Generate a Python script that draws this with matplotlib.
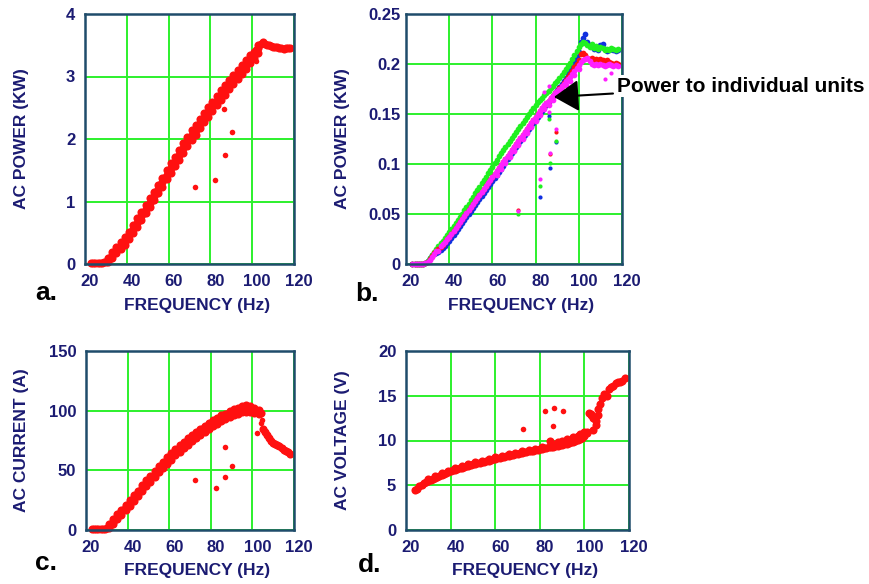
import matplotlib
matplotlib.use("Agg")
import matplotlib.pyplot as plt
import matplotlib.transforms as mtransforms

plt.rcParams["font.family"] = ["Liberation Sans", "DejaVu Sans"]
plt.rcParams["font.weight"] = "bold"

NAVY = "#1b1b72"
SPINE = "#1f4c6b"
GRID = "#2cf02c"
RED = "#ff1010"

# ---------------- panel a: total AC power (kW) ----------------
freq_a = list(range(23, 119))
power_a = [0.02, 0.02, 0.02, 0.02, 0.02, 0.02, 0.03, 0.04, 0.07, 0.10,
           0.14, 0.18, 0.22, 0.26, 0.29, 0.33, 0.37, 0.41, 0.46, 0.50,
           0.56, 0.61, 0.66, 0.71, 0.77, 0.82, 0.88, 0.93, 0.98, 1.04,
           1.09, 1.15, 1.20, 1.26, 1.31, 1.37, 1.43, 1.48, 1.53, 1.59,
           1.64, 1.70, 1.75, 1.80, 1.86, 1.91, 1.97, 2.02, 2.06, 2.11,
           2.15, 2.20, 2.25, 2.29, 2.34, 2.39, 2.44, 2.48, 2.53, 2.57,
           2.61, 2.66, 2.70, 2.75, 2.79, 2.83, 2.87, 2.91, 2.95, 2.99,
           3.03, 3.07, 3.11, 3.15, 3.19, 3.23, 3.27, 3.31, 3.36, 3.42,
           3.46, 3.52, 3.55, 3.52, 3.50, 3.50, 3.49, 3.48, 3.48, 3.47,
           3.46, 3.45, 3.44, 3.45, 3.45, 3.45]
# upper and lower edges of the measurement band
freq_a_edge = list(range(31, 105, 2))
power_a_hi = [0.10, 0.19, 0.27, 0.35, 0.43, 0.52, 0.62, 0.73, 0.84, 0.95,
              1.05, 1.16, 1.27, 1.38, 1.50, 1.61, 1.72, 1.83, 1.93, 2.04,
              2.14, 2.23, 2.32, 2.42, 2.52, 2.60, 2.69, 2.78, 2.86, 2.94,
              3.02, 3.10, 3.18, 3.26, 3.34, 3.40, 3.50]
power_a_lo = [0.03, 0.09, 0.17, 0.24, 0.31, 0.40, 0.50, 0.59, 0.70, 0.81,
              0.92, 1.02, 1.13, 1.24, 1.36, 1.46, 1.57, 1.67, 1.78, 1.89,
              1.98, 2.07, 2.17, 2.27, 2.36, 2.45, 2.54, 2.63, 2.71, 2.80,
              2.88, 2.96, 3.04, 3.12, 3.21, 3.30, 3.38]
freq_a_out = [72.5, 82.4, 86.9, 86.6, 90.4, 102.0]
power_a_out = [1.23, 1.34, 1.74, 2.48, 2.11, 3.25]

# ---------------- panel b: power to individual units (kW) ----------------
freq_b = list(range(23, 119))
unit_blue = [0.000, 0.000, 0.000, 0.000, 0.000, 0.000, 0.001, 0.003, 0.006, 0.009,
             0.010, 0.011, 0.012, 0.014, 0.016, 0.018, 0.021, 0.023, 0.026, 0.029,
             0.032, 0.035, 0.038, 0.041, 0.044, 0.047, 0.050, 0.053, 0.056, 0.059,
             0.062, 0.065, 0.068, 0.071, 0.074, 0.077, 0.080, 0.083, 0.086, 0.089,
             0.092, 0.095, 0.098, 0.102, 0.105, 0.108, 0.111, 0.114, 0.117, 0.120,
             0.123, 0.126, 0.129, 0.132, 0.135, 0.138, 0.141, 0.144, 0.147, 0.150,
             0.153, 0.156, 0.159, 0.162, 0.165, 0.168, 0.171, 0.174, 0.177, 0.180,
             0.183, 0.186, 0.190, 0.194, 0.198, 0.203, 0.207, 0.212, 0.222, 0.226,
             0.230, 0.222, 0.219, 0.217, 0.215, 0.217, 0.214, 0.219, 0.220, 0.215,
             0.213, 0.214, 0.215, 0.214, 0.213, 0.214]
unit_green = [0.000, 0.000, 0.000, 0.000, 0.000, 0.000, 0.001, 0.003, 0.006, 0.009,
              0.012, 0.015, 0.018, 0.021, 0.023, 0.026, 0.029, 0.032, 0.035, 0.038,
              0.041, 0.044, 0.047, 0.050, 0.054, 0.057, 0.060, 0.064, 0.067, 0.071,
              0.074, 0.077, 0.081, 0.084, 0.087, 0.091, 0.094, 0.097, 0.101, 0.104,
              0.108, 0.111, 0.114, 0.117, 0.120, 0.123, 0.126, 0.129, 0.132, 0.135,
              0.138, 0.141, 0.144, 0.147, 0.150, 0.153, 0.156, 0.159, 0.162, 0.164,
              0.166, 0.169, 0.171, 0.173, 0.176, 0.178, 0.181, 0.183, 0.186, 0.189,
              0.192, 0.195, 0.198, 0.201, 0.205, 0.209, 0.213, 0.217, 0.220, 0.222,
              0.221, 0.219, 0.217, 0.220, 0.216, 0.218, 0.215, 0.217, 0.216, 0.214,
              0.215, 0.214, 0.216, 0.215, 0.214, 0.215]
unit_red = [0.000, 0.000, 0.000, 0.000, 0.000, 0.000, 0.001, 0.002, 0.005, 0.008,
            0.011, 0.013, 0.015, 0.017, 0.019, 0.022, 0.025, 0.027, 0.030, 0.033,
            0.036, 0.039, 0.042, 0.045, 0.048, 0.051, 0.054, 0.057, 0.060, 0.063,
            0.066, 0.069, 0.072, 0.075, 0.078, 0.081, 0.084, 0.087, 0.090, 0.093,
            0.096, 0.099, 0.102, 0.105, 0.108, 0.111, 0.114, 0.117, 0.120, 0.123,
            0.126, 0.129, 0.132, 0.135, 0.138, 0.141, 0.144, 0.147, 0.150, 0.153,
            0.156, 0.158, 0.161, 0.163, 0.166, 0.168, 0.171, 0.173, 0.176, 0.178,
            0.181, 0.184, 0.187, 0.190, 0.193, 0.197, 0.200, 0.204, 0.210, 0.211,
            0.209, 0.206, 0.205, 0.206, 0.204, 0.205, 0.204, 0.205, 0.204, 0.203,
            0.204, 0.202, 0.201, 0.200, 0.201, 0.200]
unit_magenta = [0.000, 0.000, 0.000, 0.000, 0.000, 0.000, 0.001, 0.002, 0.004, 0.007,
                0.010, 0.013, 0.013, 0.018, 0.020, 0.022, 0.025, 0.027, 0.030, 0.033,
                0.036, 0.039, 0.042, 0.045, 0.048, 0.051, 0.054, 0.057, 0.060, 0.063,
                0.066, 0.069, 0.072, 0.075, 0.078, 0.081, 0.084, 0.087, 0.090, 0.093,
                0.096, 0.099, 0.102, 0.105, 0.108, 0.111, 0.114, 0.117, 0.120, 0.123,
                0.126, 0.129, 0.132, 0.135, 0.138, 0.141, 0.144, 0.147, 0.150, 0.153,
                0.156, 0.159, 0.161, 0.163, 0.166, 0.168, 0.171, 0.173, 0.175, 0.178,
                0.180, 0.183, 0.185, 0.187, 0.190, 0.193, 0.196, 0.199, 0.202, 0.204,
                0.205, 0.206, 0.203, 0.200, 0.199, 0.200, 0.199, 0.200, 0.199, 0.198,
                0.199, 0.200, 0.199, 0.198, 0.199, 0.198]
# lower edge of the magenta unit's band
freq_b_lo = list(range(62, 102, 2))
magenta_lo = [0.089, 0.095, 0.101, 0.107, 0.113, 0.119, 0.125, 0.131, 0.137, 0.143,
              0.149, 0.155, 0.159, 0.164, 0.169, 0.174, 0.179, 0.183, 0.189, 0.195]
freq_b_out = [72.0, 82.0, 86.0, 86.5, 89.5, 84.0, 86.0, 112.0, 115.0]
out_blue = [None, 0.067, 0.148, 0.096, 0.122, None, None, None, None]
out_green = [0.050, 0.078, 0.145, 0.101, 0.123, None, None, None, None]
out_red = [0.054, None, None, 0.110, 0.132, None, None, None, None]
out_magenta = [0.053, 0.085, 0.152, 0.111, 0.135, 0.172, 0.178, 0.185, 0.191]

# ---------------- panel c: AC current (A) ----------------
freq_c = list(range(23, 119))
current_c = [1, 1, 1, 1, 1, 1, 1, 1.5, 3, 5,
             7, 9, 11, 13, 15, 17, 19, 21, 23, 25,
             27, 29, 31, 33, 35, 37, 39, 41, 43, 45,
             47, 49, 51, 53, 55, 56.5, 58.5, 60, 62, 63.5,
             65, 67, 68.5, 70, 71.5, 73, 74.5, 76, 77.5, 79,
             80.5, 82, 83, 84.5, 86, 87.5, 88.5, 90, 91, 92,
             93, 94, 95, 95.5, 96, 97, 97.5, 98.5, 99, 99.5,
             100, 100.5, 101, 102, 102, 101.5, 101, 101, 100.5, 100,
             99, 98, 85, 82, 80, 77, 75, 73, 72, 71,
             70, 69, 67, 66, 65, 64]
freq_c_edge = list(range(31, 105, 2))
current_c_hi = [5, 9, 13, 17, 21, 25, 29, 33, 37.5, 41.5,
                45.5, 49.5, 53.5, 57, 61, 64.5, 67.5, 71, 74, 77,
                80, 82.5, 85, 87.5, 90, 92.5, 94, 96, 97.5, 99.5,
                101, 102, 103.5, 104.5, 103.5, 102, 100.5]
current_c_lo = [1.5, 5, 9, 12.5, 16.5, 20.5, 24.5, 28.5, 32.5, 36.5,
                40.5, 44.5, 48.5, 52, 55.5, 59, 62.5, 65.5, 68.5, 71.5,
                74.5, 77, 79.5, 82, 84.5, 87, 89, 91, 93, 94.5,
                96, 97.5, 98.5, 99, 98.5, 98, 97.5]
freq_c_out = [72.5, 82.4, 86.6, 86.8, 90.4, 102.3, 104.0, 104.6]
current_c_out = [41.8, 35.4, 69.6, 44.6, 53.4, 81.0, 90.0, 92.0]

# ---------------- panel d: AC voltage (V) ----------------
freq_d = list(range(24, 119))
voltage_d = [4.5, 4.6, 4.9, 5.0, 5.2, 5.35, 5.45, 5.6, 5.75, 5.85,
             5.95, 6.05, 6.15, 6.25, 6.35, 6.45, 6.55, 6.65, 6.72, 6.8,
             6.88, 6.95, 7.03, 7.1, 7.18, 7.25, 7.32, 7.38, 7.45, 7.5,
             7.57, 7.63, 7.7, 7.75, 7.82, 7.88, 7.95, 8.0, 8.06, 8.12,
             8.18, 8.23, 8.3, 8.35, 8.4, 8.46, 8.52, 8.57, 8.62, 8.67,
             8.72, 8.78, 8.83, 8.88, 8.93, 8.98, 9.03, 9.08, 9.13, 9.18,
             9.22, 9.27, 9.32, 9.37, 9.42, 9.47, 9.52, 9.58, 9.65, 9.72,
             9.8, 9.88, 9.97, 10.05, 10.15, 10.28, 10.45, 10.8, 13.1, 12.9,
             12.5, 11.7, 13.5, 14.1, 14.8, 15.2, 15.0, 15.7, 16.0, 16.1,
             16.4, 16.5, 16.5, 16.7, 17.0]
freq_d2 = [30, 33, 36, 39, 42, 45, 48, 51, 54, 57, 60, 63, 66, 69, 72, 75,
           78, 81, 84.5, 86.0, 88.0, 90.0, 92.0, 94.0, 95.0, 97.0, 98.0, 99.0,
           100.0, 101.0, 103.0, 104.0, 105.0, 106.0]
voltage_d2 = [5.65, 6.05, 6.35, 6.6, 6.9, 7.12, 7.35, 7.55, 7.75, 7.93,
              8.12, 8.3, 8.47, 8.63, 8.8, 8.95, 9.1, 9.25, 9.9, 9.6,
              9.8, 9.9, 10.2, 10.0, 10.4, 10.5, 10.7, 10.6, 10.9, 11.0,
              13.0, 11.2, 12.2, 12.8]
freq_d_out = [72.5, 82.5, 86.5, 86.0, 90.3]
voltage_d_out = [11.3, 13.3, 13.6, 11.6, 13.3]

freq_ticks = [20, 40, 60, 80, 100, 120]

W, H = 870, 584
fig = plt.figure(figsize=(W / 100, H / 100), dpi=100)


def make_axes(x0, y0, x1, y1):
    return fig.add_axes([x0 / W, 1 - y1 / H, (x1 - x0) / W, (y1 - y0) / H])


def style(ax, yticks, yticklabels, ylabel, letter, letter_xy, ylabel_x, xlabel_y, ypad):
    ax.set_xlim(20, 120)
    ax.set_ylim(yticks[0], yticks[-1])
    ax.set_xticks(freq_ticks)
    ax.set_yticks(yticks)
    ax.set_yticklabels(yticklabels)
    ax.grid(True, color=GRID, lw=1.4)
    ax.set_axisbelow(True)
    for s in ax.spines.values():
        s.set_color(SPINE)
        s.set_linewidth(1.8)
        s.set_zorder(5)
    ax.tick_params(length=0, labelsize=12, labelcolor=NAVY)
    ax.tick_params(axis="x", pad=7)
    ax.tick_params(axis="y", pad=ypad)
    offset = mtransforms.ScaledTranslation(5 / 100, 0, fig.dpi_scale_trans)
    for lab in ax.get_xticklabels():
        lab.set_transform(lab.get_transform() + offset)
        lab.set_fontweight("bold")
    for lab in ax.get_yticklabels():
        lab.set_fontweight("bold")
    ax.set_xlabel("FREQUENCY (Hz)", fontsize=12.5, fontweight="bold", color=NAVY)
    ax.xaxis.set_label_coords(0.535, xlabel_y)
    ax.set_ylabel(ylabel, fontsize=12.5, fontweight="bold", color=NAVY)
    ax.yaxis.set_label_coords(ylabel_x, 0.5)
    fig.text(letter_xy[0] / W, 1 - letter_xy[1] / H, letter, fontsize=19,
             fontweight="bold", color="black", ha="left", va="baseline")


def dots(ax, x, y, color, s):
    pts = [(a, b) for a, b in zip(x, y) if b is not None]
    ax.scatter([p[0] for p in pts], [p[1] for p in pts], s=s, color=color,
               linewidths=0, zorder=3, clip_on=False)


BAND = 34
SINGLE = 16

# panel a
ax_a = make_axes(85, 14, 294, 264)
dots(ax_a, freq_a, power_a, RED, BAND)
dots(ax_a, freq_a_edge, power_a_hi, RED, BAND)
dots(ax_a, freq_a_edge, power_a_lo, RED, BAND)
dots(ax_a, freq_a_out, power_a_out, RED, SINGLE)
style(ax_a, [0, 1, 2, 3, 4], ["0", "1", "2", "3", "4"], "AC POWER (KW)",
      "a.", (35, 300), -0.268, -0.136, 7)

# panel b
ax_b = make_axes(406, 14, 622, 264)
for vals, outs, col in [(unit_blue, out_blue, "#1030e0"),
                        (unit_green, out_green, "#20f020"),
                        (unit_red, out_red, "#ff1010"),
                        (unit_magenta, out_magenta, "#ff20ff")]:
    dots(ax_b, freq_b, vals, col, 17)
    dots(ax_b, freq_b_out, outs, col, 9)
dots(ax_b, freq_b_lo, magenta_lo, "#ff20ff", 17)
style(ax_b, [0, 0.05, 0.1, 0.15, 0.2, 0.25], ["0", "0.05", "0.1", "0.15", "0.2", "0.25"],
      "AC POWER (KW)", "b.", (355, 301), -0.26, -0.136, 4)
ax_b.annotate("Power to individual units", xy=(88.5, 0.167), xytext=(117.6, 0.178),
              fontsize=15, fontweight="bold", color="black", ha="left", va="center",
              annotation_clip=False, zorder=10,
              bbox=dict(boxstyle="square,pad=0.05", fc="white", ec="none"),
              arrowprops=dict(arrowstyle="-|>,head_length=1.1,head_width=0.7",
                              mutation_scale=14, color="black", lw=1.5,
                              shrinkA=2, shrinkB=0))

# panel c
ax_c = make_axes(86, 351, 294, 530)
dots(ax_c, freq_c, current_c, RED, BAND)
dots(ax_c, freq_c_edge, current_c_hi, RED, BAND)
dots(ax_c, freq_c_edge, current_c_lo, RED, BAND)
dots(ax_c, freq_c_out, current_c_out, RED, SINGLE)
style(ax_c, [0, 50, 100, 150], ["0", "50", "100", "150"], "AC CURRENT (A)",
      "c.", (35, 570), -0.274, -0.185, 7)

# panel d
ax_d = make_axes(406, 351, 629, 530)
dots(ax_d, freq_d, voltage_d, RED, BAND)
dots(ax_d, freq_d2, voltage_d2, RED, BAND)
dots(ax_d, freq_d_out, voltage_d_out, RED, SINGLE)
style(ax_d, [0, 5, 10, 15, 20], ["0", "5", "10", "15", "20"], "AC VOLTAGE (V)",
      "d.", (358, 572), -0.25, -0.185, 7)

fig.savefig("out.png", dpi=100)
